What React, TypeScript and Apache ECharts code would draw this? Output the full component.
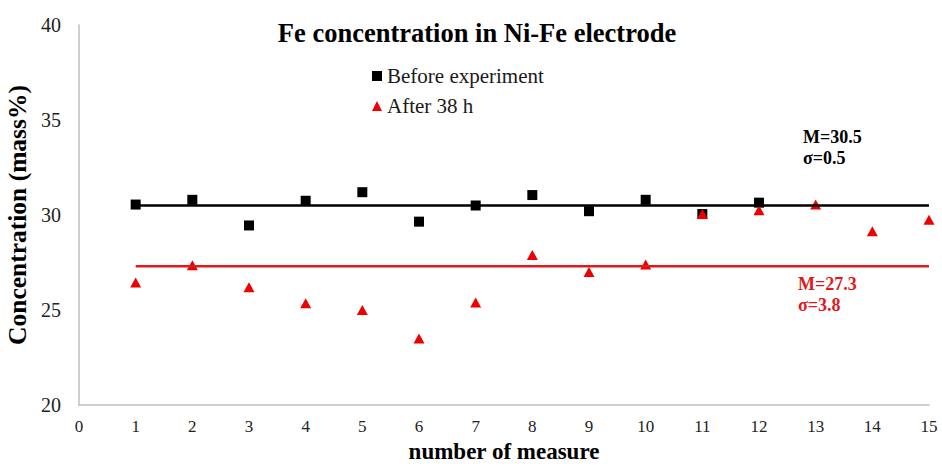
import React, { useEffect, useRef } from "react";
import * as echarts from "echarts";

// Measurement index (1..15)
const measures = [1, 2, 3, 4, 5, 6, 7, 8, 9, 10, 11, 12, 13, 14, 15];

// Fe concentration before experiment (12 measures)
const beforeValues = [30.55, 30.8, 29.45, 30.75, 31.2, 29.65, 30.5, 31.05, 30.2, 30.8, 30.05, 30.65];

// Fe concentration after 38 h (15 measures)
const afterValues = [26.45, 27.35, 26.2, 25.35, 25.0, 23.5, 25.4, 27.9, 27.0, 27.4, 30.05, 30.25, 30.55, 29.15, 29.75];

// Mean and standard deviation for each set
const beforeStats = { mean: 30.5, sd: 0.5 };
const afterStats = { mean: 27.3, sd: 3.8 };

const xTicks = [0, 15];
const yTicks = [20, 40];

const SERIF = "Liberation Serif";
const RED = "#ee0000";
const RED_LINE = "#e0191c";

export default function App() {
  const ref = useRef<HTMLDivElement>(null);

  useEffect(() => {
    if (!ref.current) return;
    const chart = echarts.init(ref.current, null, { renderer: "svg" });

    const beforeData = beforeValues.map((v, i) => [measures[i], v]);
    const afterData = afterValues.map((v, i) => [measures[i], v]);
    const first = measures[0];
    const last = measures[measures.length - 1];

    chart.setOption({
      animation: false,
      backgroundColor: "#ffffff",
      title: {
        text: "Fe concentration in Ni-Fe electrode",
        left: 472,
        textAlign: "center",
        top: 14,
        textStyle: { fontFamily: SERIF, fontSize: 26.5, fontWeight: "bold", color: "#000" },
      },
      legend: {
        data: ["Before experiment", "After 38 h"],
        orient: "vertical",
        left: 367,
        top: 60,
        itemWidth: 10,
        itemHeight: 10,
        itemGap: 8,
        textStyle: { fontFamily: SERIF, fontSize: 21, color: "#1a1a1a", lineHeight: 22 },
      },
      grid: { left: 79, right: 13, top: 25, bottom: 62, outerBoundsMode: "none" },
      xAxis: {
        type: "value",
        min: xTicks[0],
        max: xTicks[1],
        interval: 1,
        name: "number of measure",
        nameLocation: "middle",
        nameGap: 35,
        nameTextStyle: { fontFamily: SERIF, fontSize: 23, fontWeight: "bold", color: "#000" },
        axisLine: { show: true, lineStyle: { color: "#bfbfbf", width: 1.5 } },
        axisTick: { show: false },
        splitLine: { show: false },
        axisLabel: { fontFamily: SERIF, fontSize: 17, color: "#222", margin: 13 },
      },
      yAxis: {
        type: "value",
        min: yTicks[0],
        max: yTicks[1],
        interval: 5,
        name: "Concentration (mass%)",
        nameLocation: "middle",
        nameGap: 46,
        nameTextStyle: { fontFamily: SERIF, fontSize: 25.5, fontWeight: "bold", color: "#000" },
        axisLine: { show: true, lineStyle: { color: "#bfbfbf", width: 1.5 } },
        axisTick: { show: false },
        splitLine: { show: false },
        axisLabel: { fontFamily: SERIF, fontSize: 20, color: "#222", margin: 18 },
      },
      series: [
        {
          name: "Mean before",
          type: "line",
          data: [[first, beforeStats.mean], [last, beforeStats.mean]],
          symbol: "none",
          lineStyle: { color: "#000", width: 2.5 },
          silent: true,
        },
        {
          name: "Mean after",
          type: "line",
          data: [[first, afterStats.mean], [last, afterStats.mean]],
          symbol: "none",
          lineStyle: { color: RED_LINE, width: 2.5 },
          silent: true,
        },
        {
          name: "Before experiment",
          type: "scatter",
          data: beforeData,
          symbol: "rect",
          symbolSize: 10,
          itemStyle: { color: "#000", opacity: 1 },
        },
        {
          name: "After 38 h",
          type: "scatter",
          data: afterData,
          symbol: "triangle",
          symbolSize: [11, 10],
          itemStyle: { color: RED, opacity: 1 },
        },
      ],
      graphic: [
        {
          type: "text",
          left: 803,
          top: 126,
          style: {
            text: `M=${beforeStats.mean.toFixed(1)}\nσ=${beforeStats.sd.toFixed(1)}`,
            font: `bold 18px ${SERIF}`,
            fill: "#000",
            lineHeight: 21,
          },
        },
        {
          type: "text",
          left: 798,
          top: 273,
          style: {
            text: `M=${afterStats.mean.toFixed(1)}\nσ=${afterStats.sd.toFixed(1)}`,
            font: `bold 18px ${SERIF}`,
            fill: RED_LINE,
            lineHeight: 21,
          },
        },
      ],
    });

    return () => chart.dispose();
  }, []);

  return (
    <div
      ref={ref}
      style={{ position: "absolute", left: 0, top: 0, width: 942, height: 467 }}
    />
  );
}
